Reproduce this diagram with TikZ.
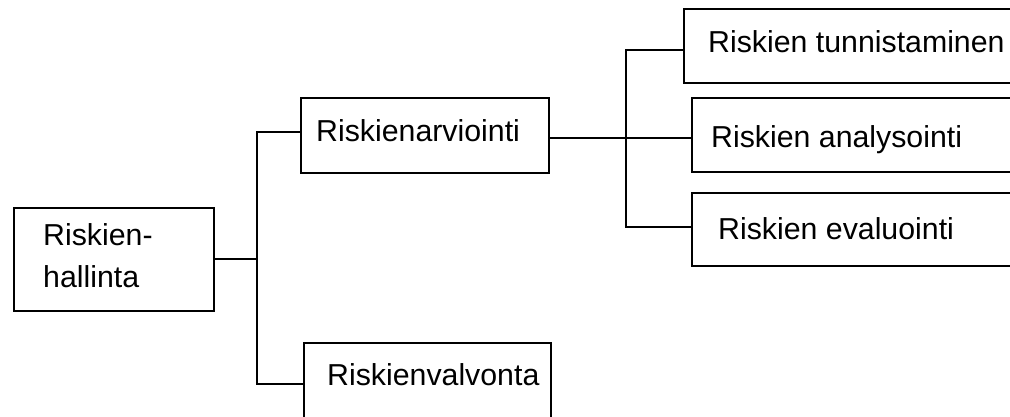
\documentclass[tikz,border=0pt]{standalone}
\usepackage{fontspec}
\setmainfont{Liberation Sans}
\begin{document}
\begin{tikzpicture}[x=1pt,y=-1pt,
  box/.style={draw=black,line width=2.9pt,rectangle,inner sep=0pt},
  lbl/.style={anchor=base west,inner sep=0pt,font=\fontsize{30.3}{36}\selectfont},
  link/.style={draw=black,line width=2.9pt}]
  % page area; boxes on the right and bottom run past it
  \useasboundingbox (0,0) rectangle (1010,417);
  \clip (0,0) rectangle (1010,417);
  \fill[white] (0,0) rectangle (1010,417);

  % boxes
  \node[box,minimum width=200pt,minimum height=103pt] (hall) at (114,259.5) {};
  \node[box,minimum width=248pt,minimum height=75pt] (arv) at (425,135.5) {};
  \node[box,minimum width=247pt,minimum height=80pt] (valv) at (427.5,383) {};
  \node[box,minimum width=356pt,minimum height=74pt] (tun) at (862,46) {};
  \node[box,minimum width=348pt,minimum height=74pt] (ana) at (866,135) {};
  \node[box,minimum width=348pt,minimum height=73pt] (eva) at (866,229.5) {};

  % texts
  \node[lbl] (hall-a) at (43,245) {Riskien-};
  \node[lbl] (hall-b) at (43,287) {hallinta};
  \node[lbl] (arv-t) at (316,142) {Riskienarviointi};
  \node[lbl] (valv-t) at (327,385) {Riskienvalvonta};
  \node[lbl] (tun-t) at (708,53) {Riskien tunnistaminen};
  \node[lbl] (ana-t) at (711,148) {Riskien analysointi};
  \node[lbl] (eva-t) at (718,239) {Riskien evaluointi};

  % junctions
  \coordinate (j1) at (257,259);
  \coordinate (j2) at (626,138);

  % connectors
  \draw[link] (hall.east |- j1) -- (j1);
  \draw[link] ([yshift=3.5pt]arv.west) -| (j1) |- ([yshift=-1pt]valv.west);
  \draw[link] (arv.east |- j2) -- (j2) -- (j2 -| ana.west);
  \draw[link] ([yshift=-4pt]tun.west) -| (j2) |- ([yshift=2.5pt]eva.west);
\end{tikzpicture}
\end{document}
